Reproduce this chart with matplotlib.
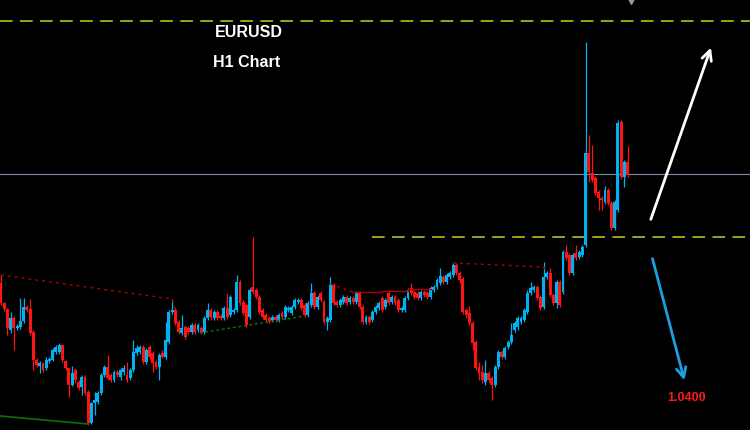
import matplotlib
matplotlib.use("Agg")
import matplotlib.pyplot as plt
import numpy as np

# ---- OHLC data (EURUSD, H1) ----
open_ = [1.0514,1.0494,1.0488,1.0467,1.0479,1.0469,1.0470,1.0476,1.0490,1.0488,
         1.0465,1.0437,1.0431,1.0434,1.0429,1.0436,1.0437,1.0445,1.0445,1.0452,
         1.0436,1.0429,1.0412,1.0427,1.0415,1.0410,1.0420,1.0405,1.0374,1.0394,
         1.0395,1.0404,1.0422,1.0430,1.0422,1.0417,1.0425,1.0420,1.0425,1.0422,
         1.0419,1.0427,1.0444,1.0445,1.0450,1.0435,1.0450,1.0444,1.0435,1.0430,
         1.0444,1.0440,1.0455,1.0485,1.0487,1.0475,1.0464,1.0470,1.0469,1.0465,
         1.0472,1.0467,1.0469,1.0465,1.0479,1.0487,1.0479,1.0485,1.0481,1.0479,
         1.0489,1.0482,1.0485,1.0487,1.0515,1.0495,1.0492,1.0480,1.0510,1.0507,
         1.0500,1.0487,1.0482,1.0479,1.0477,1.0480,1.0477,1.0484,1.0480,1.0487,
         1.0484,1.0490,1.0495,1.0497,1.0492,1.0482,1.0492,1.0504,1.0490,1.0504,
         1.0495,1.0475,1.0477,1.0512,1.0495,1.0492,1.0495,1.0500,1.0495,1.0499,
         1.0495,1.0504,1.0490,1.0475,1.0480,1.0477,1.0485,1.0489,1.0499,1.0490,
         1.0504,1.0495,1.0500,1.0497,1.0487,1.0487,1.0499,1.0509,1.0505,1.0504,
         1.0499,1.0505,1.0504,1.0500,1.0507,1.0510,1.0514,1.0520,1.0515,1.0520,
         1.0522,1.0532,1.0524,1.0518,1.0487,1.0484,1.0474,1.0455,1.0430,1.0425,
         1.0415,1.0424,1.0419,1.0412,1.0430,1.0445,1.0440,1.0450,1.0455,1.0467,
         1.0470,1.0475,1.0477,1.0485,1.0504,1.0507,1.0510,1.0500,1.0490,1.0520,
         1.0524,1.0502,1.0494,1.0515,1.0505,1.0545,1.0542,1.0524,1.0544,1.0540,
         1.0542,1.0552,1.0644,1.0624,1.0619,1.0605,1.0599,1.0595,1.0607,1.0594,
         1.0569,1.0587,1.0675,1.0620,1.0635]
high = [1.0522,1.0495,1.0489,1.0485,1.0481,1.0473,1.0499,1.0499,1.0492,1.0498,
        1.0467,1.0439,1.0436,1.0435,1.0440,1.0440,1.0449,1.0452,1.0454,1.0453,
        1.0437,1.0430,1.0431,1.0429,1.0417,1.0422,1.0422,1.0407,1.0395,1.0405,
        1.0406,1.0424,1.0432,1.0442,1.0424,1.0427,1.0427,1.0429,1.0432,1.0435,
        1.0429,1.0457,1.0452,1.0452,1.0452,1.0449,1.0452,1.0446,1.0437,1.0444,
        1.0447,1.0475,1.0487,1.0498,1.0489,1.0477,1.0482,1.0472,1.0471,1.0474,
        1.0474,1.0474,1.0471,1.0481,1.0494,1.0489,1.0487,1.0487,1.0483,1.0491,
        1.0504,1.0502,1.0489,1.0522,1.0517,1.0497,1.0494,1.0509,1.0560,1.0509,
        1.0502,1.0489,1.0484,1.0481,1.0482,1.0482,1.0484,1.0486,1.0492,1.0491,
        1.0492,1.0499,1.0499,1.0499,1.0494,1.0496,1.0514,1.0506,1.0502,1.0506,
        1.0497,1.0481,1.0520,1.0514,1.0497,1.0499,1.0502,1.0502,1.0501,1.0501,
        1.0506,1.0506,1.0492,1.0482,1.0482,1.0487,1.0492,1.0496,1.0501,1.0499,
        1.0507,1.0502,1.0502,1.0499,1.0491,1.0501,1.0509,1.0514,1.0507,1.0506,
        1.0507,1.0507,1.0506,1.0511,1.0512,1.0519,1.0529,1.0522,1.0524,1.0526,
        1.0534,1.0534,1.0526,1.0520,1.0489,1.0491,1.0476,1.0457,1.0435,1.0432,
        1.0437,1.0426,1.0421,1.0432,1.0447,1.0447,1.0451,1.0457,1.0474,1.0476,
        1.0481,1.0481,1.0489,1.0507,1.0515,1.0512,1.0512,1.0502,1.0535,1.0526,
        1.0529,1.0504,1.0517,1.0517,1.0547,1.0552,1.0544,1.0544,1.0552,1.0547,
        1.0552,1.0755,1.0662,1.0652,1.0621,1.0607,1.0601,1.0611,1.0609,1.0596,
        1.0597,1.0677,1.0677,1.0637,1.0651]
low = [1.0492,1.0486,1.0462,1.0464,1.0447,1.0467,1.0468,1.0474,1.0485,1.0462,
       1.0427,1.0430,1.0424,1.0425,1.0427,1.0434,1.0436,1.0443,1.0443,1.0435,
       1.0427,1.0400,1.0411,1.0414,1.0407,1.0402,1.0402,1.0372,1.0373,1.0382,
       1.0393,1.0402,1.0420,1.0417,1.0415,1.0415,1.0420,1.0417,1.0422,1.0415,
       1.0417,1.0425,1.0442,1.0443,1.0433,1.0433,1.0438,1.0425,1.0428,1.0417,
       1.0439,1.0438,1.0453,1.0483,1.0472,1.0463,1.0462,1.0458,1.0463,1.0463,
       1.0463,1.0465,1.0463,1.0463,1.0477,1.0477,1.0477,1.0477,1.0477,1.0477,
       1.0478,1.0480,1.0483,1.0485,1.0492,1.0482,1.0470,1.0478,1.0503,1.0498,
       1.0483,1.0478,1.0475,1.0474,1.0475,1.0475,1.0475,1.0478,1.0478,1.0485,
       1.0482,1.0488,1.0493,1.0487,1.0480,1.0480,1.0490,1.0488,1.0488,1.0495,
       1.0473,1.0467,1.0475,1.0492,1.0490,1.0490,1.0493,1.0492,1.0493,1.0493,
       1.0493,1.0488,1.0473,1.0473,1.0473,1.0475,1.0483,1.0487,1.0485,1.0488,
       1.0492,1.0493,1.0492,1.0485,1.0485,1.0485,1.0497,1.0502,1.0498,1.0497,
       1.0497,1.0500,1.0498,1.0498,1.0505,1.0508,1.0512,1.0513,1.0513,1.0518,
       1.0520,1.0522,1.0514,1.0483,1.0479,1.0472,1.0447,1.0427,1.0417,1.0414,
       1.0412,1.0415,1.0397,1.0410,1.0428,1.0438,1.0438,1.0448,1.0453,1.0465,
       1.0467,1.0473,1.0475,1.0483,1.0502,1.0505,1.0497,1.0487,1.0488,1.0518,
       1.0500,1.0492,1.0489,1.0490,1.0503,1.0537,1.0522,1.0522,1.0537,1.0538,
       1.0540,1.0550,1.0615,1.0615,1.0602,1.0587,1.0587,1.0593,1.0592,1.0567,
       1.0567,1.0585,1.0618,1.0610,1.0620]
close = [1.0494,1.0488,1.0469,1.0479,1.0469,1.0471,1.0476,1.0490,1.0487,1.0464,
         1.0437,1.0432,1.0434,1.0427,1.0437,1.0438,1.0447,1.0450,1.0452,1.0437,
         1.0429,1.0412,1.0424,1.0417,1.0409,1.0420,1.0404,1.0374,1.0394,1.0397,
         1.0404,1.0422,1.0430,1.0419,1.0417,1.0425,1.0422,1.0427,1.0429,1.0417,
         1.0427,1.0445,1.0449,1.0450,1.0435,1.0447,1.0440,1.0434,1.0430,1.0442,
         1.0440,1.0457,1.0485,1.0487,1.0474,1.0465,1.0469,1.0460,1.0465,1.0472,
         1.0465,1.0472,1.0465,1.0479,1.0487,1.0480,1.0485,1.0479,1.0479,1.0489,
         1.0480,1.0500,1.0487,1.0515,1.0494,1.0484,1.0472,1.0507,1.0505,1.0500,
         1.0485,1.0480,1.0477,1.0476,1.0480,1.0477,1.0482,1.0480,1.0490,1.0489,
         1.0490,1.0497,1.0497,1.0489,1.0482,1.0494,1.0504,1.0490,1.0500,1.0497,
         1.0475,1.0479,1.0512,1.0494,1.0492,1.0497,1.0500,1.0494,1.0499,1.0495,
         1.0504,1.0490,1.0475,1.0480,1.0475,1.0485,1.0490,1.0494,1.0487,1.0497,
         1.0494,1.0500,1.0494,1.0487,1.0489,1.0499,1.0507,1.0504,1.0500,1.0499,
         1.0505,1.0502,1.0500,1.0509,1.0510,1.0517,1.0521,1.0515,1.0522,1.0524,
         1.0532,1.0524,1.0517,1.0485,1.0482,1.0474,1.0454,1.0429,1.0424,1.0417,
         1.0424,1.0417,1.0412,1.0430,1.0445,1.0440,1.0449,1.0455,1.0462,1.0474,
         1.0479,1.0479,1.0487,1.0504,1.0509,1.0510,1.0499,1.0489,1.0520,1.0524,
         1.0502,1.0494,1.0515,1.0492,1.0545,1.0539,1.0524,1.0542,1.0539,1.0545,
         1.0550,1.0644,1.0625,1.0617,1.0604,1.0599,1.0597,1.0607,1.0594,1.0569,
         1.0595,1.0674,1.0620,1.0635,1.0622]

# ---- levels / annotations ----
upper_level = 1.0776
lower_level = 1.0560
current_price = 1.0623
target_text = "1.0400"
title_1 = "EURUSD"
title_2 = "H1 Chart"

# zigzag / trend lines (bar index, price)
red_zz1_idx = [0, 53, 54]
red_zz1_px = [1.0522, 1.0498, 1.0487]
red_zz2_idx = [102, 109]
red_zz2_px = [1.0513, 1.0505]
red_flat_idx = [109, 118, 118, 126, 126, 133]
red_flat_px = [1.0505, 1.0505, 1.0506, 1.0506, 1.0508, 1.0508]
red_zz3_idx = [140, 168, 169]
red_zz3_px = [1.0534, 1.0530, 1.0525]
green_low_idx = [-0.3, 27]
green_low_px = [1.0381, 1.0373]
green_mid_idx = [61.6, 94]
green_mid_px = [1.0464, 1.0481]

# projection arrows (bar index, price)
up_arrow_start = (200.9, 1.0575)
up_arrow_end = (220.1, 1.0752)
dn_arrow_start = (201.5, 1.0541)
dn_arrow_end = (211.8, 1.0414)

BLUE = "#00b2f2"
RED = "#ff1414"

fig = plt.figure(figsize=(7.5, 4.3), dpi=100, facecolor="black")
ax = fig.add_axes([0, 0, 1, 1])
ax.set_facecolor("black")
ax.axis("off")

o = np.array(open_); h = np.array(high); l = np.array(low); c = np.array(close)
x = np.arange(len(o))
up = c >= o
cols = np.where(up, BLUE, RED)

ax.vlines(x, l, h, colors=cols, lw=0.9, zorder=3)
bottom = np.minimum(o, c)
height = np.maximum(np.abs(c - o), 0.00012)
ax.bar(x, height, bottom=bottom, width=0.9, color=cols, linewidth=0, zorder=4)

# levels
olive = "#a3a312"
ax.axhline(upper_level, color=olive, lw=1.4, ls=(0, (6.5, 3.8)), zorder=2)
ax.plot([114.9, 240], [lower_level, lower_level], color=olive, lw=1.4,
        ls=(0, (6.5, 3.8)), zorder=2)
ax.axhline(current_price, color="#7d8fa8", lw=0.8, zorder=2)

# zigzag lines
dred = "#b00000"
ax.plot(red_zz1_idx, red_zz1_px, color=dred, lw=1.0, ls=(0, (2, 3)), zorder=5)
ax.plot(red_zz2_idx, red_zz2_px, color=dred, lw=1.0, ls=(0, (2, 3)), zorder=5)
ax.plot(red_flat_idx, red_flat_px, color=dred, lw=1.0, zorder=5)
ax.plot(red_zz3_idx, red_zz3_px, color=dred, lw=1.0, ls=(0, (2, 3)), zorder=5)
ax.plot(green_low_idx, green_low_px, color="#0c6e0c", lw=1.2, zorder=5)
ax.plot(green_mid_idx, green_mid_px, color="#0c7a0c", lw=1.0, ls=(0, (2, 2)), zorder=5)

# arrows
ax.annotate("", xy=up_arrow_end, xytext=up_arrow_start,
            arrowprops=dict(arrowstyle="->,head_length=0.7,head_width=0.35",
                            color="white", lw=2.0), zorder=6)
ax.annotate("", xy=dn_arrow_end, xytext=dn_arrow_start,
            arrowprops=dict(arrowstyle="->,head_length=0.7,head_width=0.35",
                            color="#1c9ee0", lw=2.0), zorder=6)

# little grey marker at top
ax.plot([195], [1.0796], marker="v", color="#9a9a9a", ms=5, zorder=6)

ax.text(0.3313, 0.9233, title_1, transform=ax.transAxes, color="white",
        fontsize=11.5, fontweight="bold", family="Liberation Sans",
        ha="center", va="center")
ax.text(0.3284, 0.8558, title_2, transform=ax.transAxes, color="white",
        fontsize=11.5, fontweight="bold", family="Liberation Sans",
        ha="center", va="center")
ax.text(0.916, 0.0744, target_text, transform=ax.transAxes, color="#ff1a1a",
        fontsize=9, fontweight="bold", family="Liberation Sans",
        ha="center", va="center")

ax.set_xlim(-0.31, 231.9)
ax.set_ylim(1.0367, 1.0797)

fig.savefig("out.png", dpi=100, facecolor="black")
